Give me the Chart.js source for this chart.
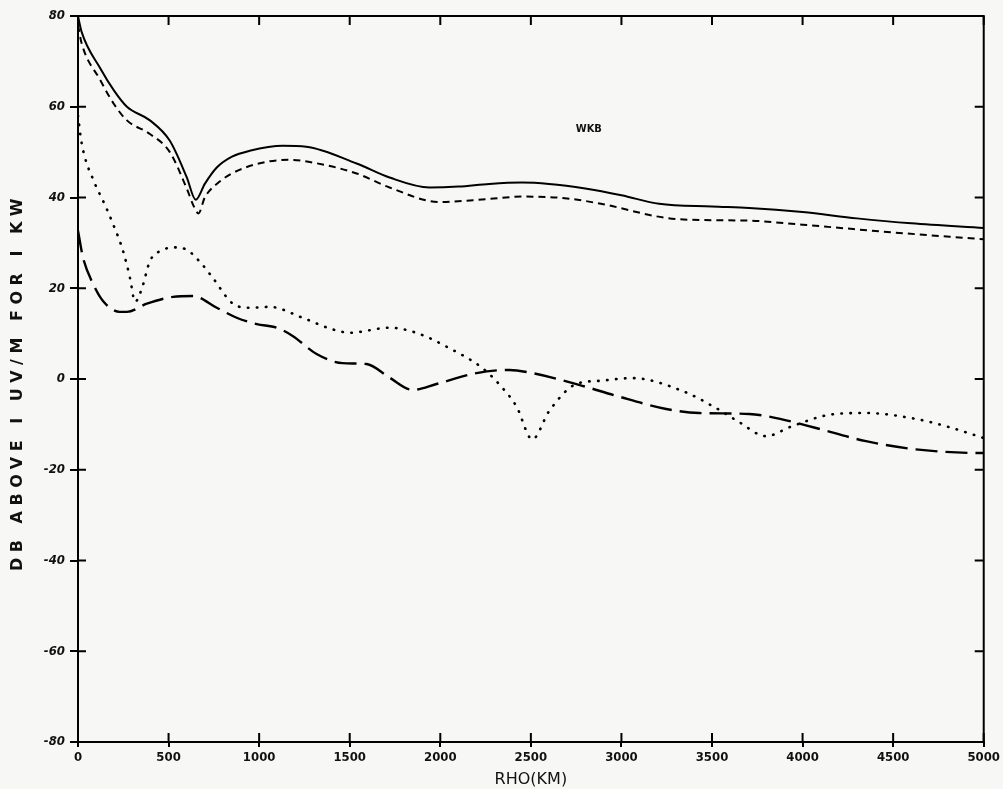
<!DOCTYPE html>
<html>
<head>
<meta charset="utf-8">
<script src="https://cdn.jsdelivr.net/npm/chart.js@4/dist/chart.umd.min.js"></script>
<style>
  html, body { margin: 0; padding: 0; background: #f7f7f5; }
  canvas { display: block; }
</style>
</head>
<body>
<canvas id="chart" width="1003" height="789"></canvas>
<script>
// --- Data ---
const xTicks = [0, 500, 1000, 1500, 2000, 2500, 3000, 3500, 4000, 4500, 5000];
const yTicks = [-80, -60, -40, -20, 0, 20, 40, 60, 80];

// solid curve
const solidX = [0, 20, 121, 200, 270, 397, 507, 600, 650, 700, 766, 850, 948, 1130, 1260, 1538, 1720, 1940, 2100, 2271, 2450, 2600, 2800, 3000, 3208, 3500, 3705, 4000, 4300, 4600, 5000];
const solidY = [80, 76.5, 68.6, 63.5, 60, 57, 52.5, 44.5, 39.5, 43, 46.6, 49, 50.3, 51.4, 51.2, 47.5, 44.4, 42.2, 42.4, 43, 43.3, 43, 42, 40.5, 38.6, 38, 37.7, 36.8, 35.4, 34.3, 33.3];

// short-dash curve
const dashX = [0, 20, 121, 200, 270, 397, 507, 600, 640, 665, 700, 766, 910, 1169, 1296, 1538, 1720, 1996, 2271, 2453, 2700, 2900, 3247, 3500, 3705, 4000, 4500, 5000];
const dashY = [78, 74, 66, 60.5, 57, 54, 50, 42, 38, 36.5, 40, 43, 46.4, 48.3, 47.7, 45.3, 42.2, 39, 39.7, 40.2, 39.8, 38.5, 35.5, 35, 34.9, 34, 32.3, 30.8];

// dotted curve
const dotX = [0, 20, 94, 138, 193, 248, 287, 315, 353, 397, 460, 530, 600, 680, 744, 855, 948, 1058, 1240, 1400, 1500, 1720, 1866, 2050, 2233, 2326, 2420, 2508, 2602, 2750, 2878, 3060, 3335, 3522, 3650, 3798, 3942, 4162, 4350, 4625, 4800, 5000];
const dotY = [58, 52, 43, 39.3, 34.2, 28.3, 22.3, 17, 20, 26, 28.3, 29, 28.5, 25.5, 22.3, 16.6, 15.7, 15.9, 13.5, 11, 10.2, 11.3, 10.2, 6.8, 2.4, -1.2, -6, -13.3, -7, -1.1, -0.4, 0.2, -2.6, -6.4, -9.5, -12.6, -10.4, -7.8, -7.5, -8.8, -10.5, -13];

// long-dash curve
const longX = [0, 28, 83, 138, 231, 270, 380, 524, 634, 766, 876, 987, 1097, 1185, 1317, 1461, 1593, 1720, 1847, 1979, 2200, 2381, 2508, 2784, 2971, 3247, 3429, 3705, 3887, 4074, 4350, 4625, 4972, 5000];
const longY = [32.7, 26.7, 21, 17.2, 14.8, 14.8, 16.6, 18.1, 18.3, 15.7, 13.5, 12.1, 11.3, 9.5, 5.5, 3.5, 3.3, 0.3, -2.4, -1.1, 1.3, 2.0, 1.3, -1.5, -3.7, -6.6, -7.5, -7.7, -8.9, -10.8, -13.7, -15.5, -16.3, -16.3];

const noteText = 'WKB';
const notePos = { x: 2820, y: 55 };
const yTitle = 'DB ABOVE I UV/M FOR I KW';

const FONT = "'DejaVu Sans Condensed', 'DejaVu Sans', sans-serif";

function pts(xs, ys) {
  return xs.map((x, i) => ({ x: x, y: ys[i] }));
}

// --- Frame, inner ticks, y title and the WKB note ---
const framePlugin = {
  id: 'frame',
  afterDraw(chart) {
    const { ctx, chartArea: a, scales } = chart;
    ctx.save();
    ctx.strokeStyle = '#000';
    ctx.lineWidth = 2;
    ctx.strokeRect(a.left, a.top, a.right - a.left, a.bottom - a.top);
    ctx.beginPath();
    xTicks.forEach(v => {
      const px = scales.x.getPixelForValue(v);
      ctx.moveTo(px, a.bottom); ctx.lineTo(px, a.bottom - 9);
      ctx.moveTo(px, a.top); ctx.lineTo(px, a.top + 9);
    });
    yTicks.forEach(v => {
      const py = scales.y.getPixelForValue(v);
      ctx.moveTo(a.left, py); ctx.lineTo(a.left + 8, py);
      ctx.moveTo(a.right, py); ctx.lineTo(a.right - 9, py);
    });
    ctx.stroke();

    ctx.fillStyle = '#111';
    ctx.font = "bold 11px " + FONT;
    ctx.textAlign = 'center';
    ctx.textBaseline = 'middle';
    ctx.fillText(noteText, scales.x.getPixelForValue(notePos.x), scales.y.getPixelForValue(notePos.y));

    // rotated y axis title, spaced out like the plotter lettering
    ctx.translate(18, (a.top + a.bottom) / 2 + 3);
    ctx.rotate(-Math.PI / 2);
    ctx.font = "bold 16px 'DejaVu Sans', sans-serif";
    ctx.letterSpacing = '5.5px';
    ctx.fillText(yTitle, 0, 0);
    ctx.restore();
  }
};

new Chart(document.getElementById('chart'), {
  type: 'scatter',
  data: {
    datasets: [
      { data: pts(solidX, solidY), borderColor: '#000', borderWidth: 2 },
      { data: pts(dashX, dashY), borderColor: '#000', borderWidth: 2, borderDash: [7, 5] },
      { data: pts(dotX, dotY), borderColor: '#000', borderWidth: 2.6, borderDash: [0.5, 8.5], borderCapStyle: 'round' },
      { data: pts(longX, longY), borderColor: '#000', borderWidth: 2.4, borderDash: [22, 8] }
    ].map(d => Object.assign(d, { showLine: true, pointRadius: 0, cubicInterpolationMode: 'monotone', fill: false }))
  },
  options: {
    responsive: false,
    animation: false,
    layout: { padding: { top: 16, right: 18, left: 0, bottom: 0 } },
    plugins: { legend: { display: false }, tooltip: { enabled: false } },
    scales: {
      x: {
        type: 'linear', min: 0, max: 5000,
        afterBuildTicks: s => { s.ticks = xTicks.map(v => ({ value: v })); },
        afterFit: s => { s.height = 47; },
        grid: { drawOnChartArea: false, color: '#000', lineWidth: 2, tickLength: 5 },
        border: { color: '#000', width: 2 },
        ticks: { color: '#111', padding: 3, maxRotation: 0, callback: v => String(v), font: { family: FONT, size: 13, weight: 'bold' } },
        title: { display: true, text: 'RHO(KM)', color: '#111', padding: { top: 0, bottom: 0 }, font: { family: "'DejaVu Sans', sans-serif", size: 16 } }
      },
      y: {
        type: 'linear', min: -80, max: 80,
        afterBuildTicks: s => { s.ticks = yTicks.map(v => ({ value: v })); },
        afterFit: s => { s.width = 78; },
        grid: { drawOnChartArea: false, color: '#000', lineWidth: 2, tickLength: 8 },
        border: { color: '#000', width: 2 },
        ticks: { color: '#111', padding: 5, callback: v => String(v), font: { family: FONT, size: 13, weight: 'bold', style: 'italic' } },
        title: { display: false }
      }
    }
  },
  plugins: [framePlugin]
});
</script>
</body>
</html>
